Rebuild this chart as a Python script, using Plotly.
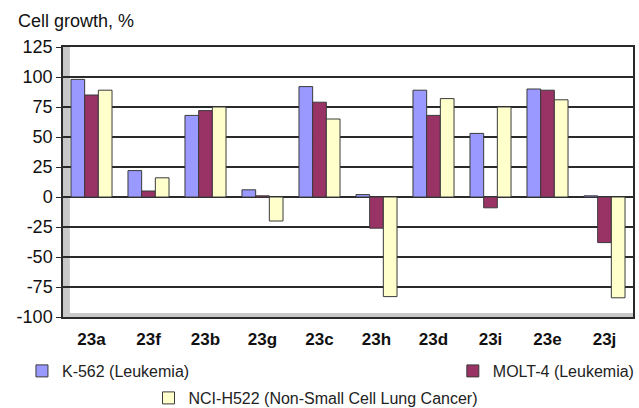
import plotly.graph_objects as go

categories = ["23a", "23f", "23b", "23g", "23c", "23h", "23d", "23i", "23e", "23j"]
k562 = [98, 22, 68, 6, 92, 2, 89, 53, 90, 1]
molt4 = [85, 5, 72, 1, 79, -26, 68, -9, 89, -38]
nci_h522 = [89, 16, 75, -20, 65, -83, 82, 75, 81, -84]
series_names = ["K-562 (Leukemia)", "MOLT-4 (Leukemia)", "NCI-H522 (Non-Small Cell Lung Cancer)"]
y_ticks = [-100, -75, -50, -25, 0, 25, 50, 75, 100, 125]

colors = ["#9999ff", "#993366", "#ffffcc"]
legends = ["legend", "legend2", "legend3"]

fig = go.Figure()
for vals, name, col, lg in zip([k562, molt4, nci_h522], series_names, colors, legends):
    fig.add_trace(go.Bar(
        x=categories, y=vals, name=name, legend=lg,
        marker=dict(color=col, line=dict(color="#3a3a3a", width=1)),
    ))

font = "Liberation Sans, Arial, sans-serif"
legend_common = dict(font=dict(family=font, size=16, color="#222"), bgcolor="rgba(0,0,0,0)",
                     itemwidth=30, tracegroupgap=0)
fig.update_layout(
    width=639, height=408,
    margin=dict(l=63, r=6, t=47, b=91, autoexpand=False),
    paper_bgcolor="white", plot_bgcolor="white",
    barmode="group", bargap=0.28, bargroupgap=0.0,
    font=dict(family=font, color="#111"),
    showlegend=True,
    legend=dict(x=-0.072, y=-0.2, xanchor="left", yanchor="middle", **legend_common),
    legend2=dict(x=1.012, y=-0.2, xanchor="right", yanchor="middle", **legend_common),
    legend3=dict(x=0.443, y=-0.3, xanchor="center", yanchor="middle", **legend_common),
    annotations=[dict(text="Cell growth, %", x=-0.083, y=1.095, xref="paper", yref="paper",
                      xanchor="left", yanchor="middle", showarrow=False,
                      font=dict(family=font, size=18, color="#111"))],
    shapes=[
        dict(type="rect", xref="paper", yref="paper", x0=0, x1=0.012, y0=0, y1=1,
             fillcolor="#c8c8c8", line=dict(width=0), layer="below"),
        dict(type="rect", xref="paper", yref="paper", x0=0, x1=1, y0=0, y1=0.015,
             fillcolor="#c8c8c8", line=dict(width=0), layer="below"),
    ],
)
fig.update_yaxes(
    range=[-100, 125], tickvals=y_ticks, ticktext=[str(v) for v in y_ticks],
    showgrid=True, gridcolor="#2a2a2a", gridwidth=1.5,
    zeroline=True, zerolinecolor="#2a2a2a", zerolinewidth=1.5,
    showline=True, linecolor="#2a2a2a", linewidth=1.5, mirror=True,
    ticks="outside", ticklen=5, tickcolor="#2a2a2a",
    tickfont=dict(family=font, size=18, color="#111"),
)
fig.update_xaxes(
    showline=True, linecolor="#2a2a2a", linewidth=2, mirror=True,
    ticks="", tickfont=dict(family=font, size=17, color="#111", weight="bold"),
    ticklabelstandoff=6,
)
fig.write_html("out.html", config={"displayModeBar": False},
               post_script="document.body.style.margin='0px';")
